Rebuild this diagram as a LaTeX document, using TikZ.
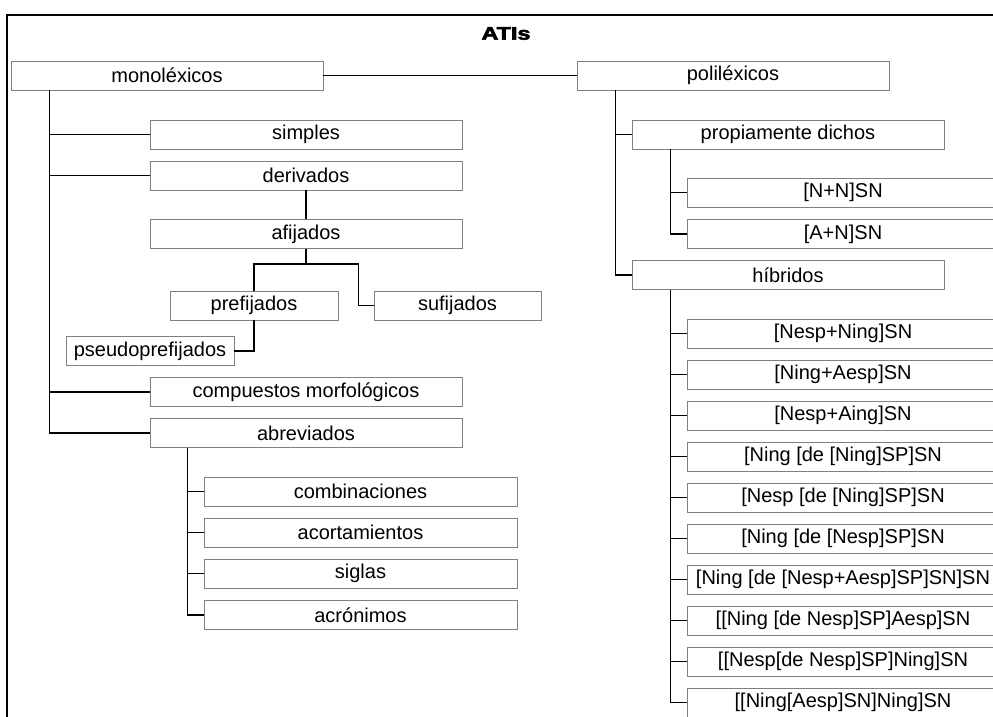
\documentclass[tikz,border=0pt]{standalone}
\usepackage{fontspec}
\setmainfont{Liberation Sans}
\newfontfamily\heavyfont[FakeBold=3]{Liberation Sans Bold}
\begin{document}
\begin{tikzpicture}[x=1pt,y=-1pt,
  box/.style={draw=black!50,line width=0.9pt,rectangle,inner sep=0pt,minimum width=312pt,minimum height=29pt,font=\fontsize{20}{24}\selectfont,fill=white},
  conn/.style={draw=black,line width=1.1pt}]
\clip (0,0) rectangle (993,717);
\fill[white] (0,0) rectangle (993,717);
\draw[line width=2pt] (7,730) -- (7,15) -- (1000,15);
\node[font=\heavyfont\fontsize{18}{20}\selectfont] (title) at (506,33.5) {\scalebox{1.3}[1]{ATIs}};
% left tree
\node[box] (mono) at (167,75.5) {monoléxicos};
\node[box] (poli) at (733,75.5) {poliléxicos};
\node[box] (simples) at (306,134.5) {simples};
\node[box] (deriv) at (306,175.5) {derivados};
\node[box] (afij) at (306,234) {afijados};
\node[box,minimum width=168pt] (pref) at (254,305.5) {prefijados};
\node[box,minimum width=167pt] (suf) at (457.5,305.5) {sufijados};
\node[box,minimum width=168pt] (pseudo) at (150,351) {pseudoprefijados};
\node[box] (comp) at (306,392) {compuestos morfológicos};
\node[box] (abrev) at (306,433) {abreviados};
\node[box,minimum width=313pt] (comb) at (360.5,491.5) {combinaciones};
\node[box,minimum width=313pt] (acort) at (360.5,532.5) {acortamientos};
\node[box,minimum width=313pt] (siglas) at (360.5,573.5) {siglas};
\node[box,minimum width=313pt] (acron) at (360.5,615) {acrónimos};
% right tree
\node[box] (prop) at (788,134.5) {propiamente dichos};
\node[box] (nn) at (843,192.5) {[N+N]SN};
\node[box] (an) at (843,234) {[A+N]SN};
\node[box] (hib) at (788,275) {híbridos};
\node[box] (h1) at (843,333.5) {[Nesp+Ning]SN};
\node[box] (h2) at (843,374.5) {[Ning+Aesp]SN};
\node[box] (h3) at (843,415.5) {[Nesp+Aing]SN};
\node[box] (h4) at (843,456.5) {[Ning [de [Ning]SP]SN};
\node[box] (h5) at (843,497.5) {[Nesp [de [Ning]SP]SN};
\node[box] (h6) at (843,538.5) {[Ning [de [Nesp]SP]SN};
\node[box] (h7) at (843,579.5) {[Ning [de [Nesp+Aesp]SP]SN]SN};
\node[box] (h8) at (843,620.5) {[[Ning [de Nesp]SP]Aesp]SN};
\node[box] (h9) at (843,661.5) {[[Nesp[de Nesp]SP]Ning]SN};
\node[box] (h10) at (843,702.5) {[[Ning[Aesp]SN]Ning]SN};
% connectors
\draw[conn] (mono.east) -- (poli.west);
\coordinate (mt) at ([xshift=39pt]mono.south west);
\draw[conn] (mt) |- (abrev.west);
\foreach \n in {simples,deriv,comp} \draw[conn] (mt |- \n.west) -- (\n.west);
\draw[conn] (deriv.south) -- (afij.north);
\coordinate (af) at ([yshift=-15pt]afij.south);
\coordinate (sj) at ([xshift=-15pt]suf.west);
\draw[conn] (afij.south) -- (af);
\draw[conn] (pref.north) |- (af) -| (sj) -- (suf.west);
\draw[conn] (pref.south) |- (pseudo.east);
\coordinate (at) at ([xshift=38pt]abrev.south west);
\draw[conn] (at) |- (acron.west);
\foreach \n in {comb,acort,siglas} \draw[conn] (at |- \n.west) -- (\n.west);
\coordinate (pt) at ([xshift=39pt]poli.south west);
\draw[conn] (pt) |- (hib.west);
\draw[conn] (pt |- prop.west) -- (prop.west);
\coordinate (prt) at ([xshift=39pt]prop.south west);
\draw[conn] (prt) |- (an.west);
\draw[conn] (prt |- nn.west) -- (nn.west);
\coordinate (ht) at ([xshift=39pt]hib.south west);
\draw[conn] (ht) |- (h10.west);
\foreach \n in {h1,h2,h3,h4,h5,h6,h7,h8,h9} \draw[conn] (ht |- \n.west) -- (\n.west);
\end{tikzpicture}
\end{document}
